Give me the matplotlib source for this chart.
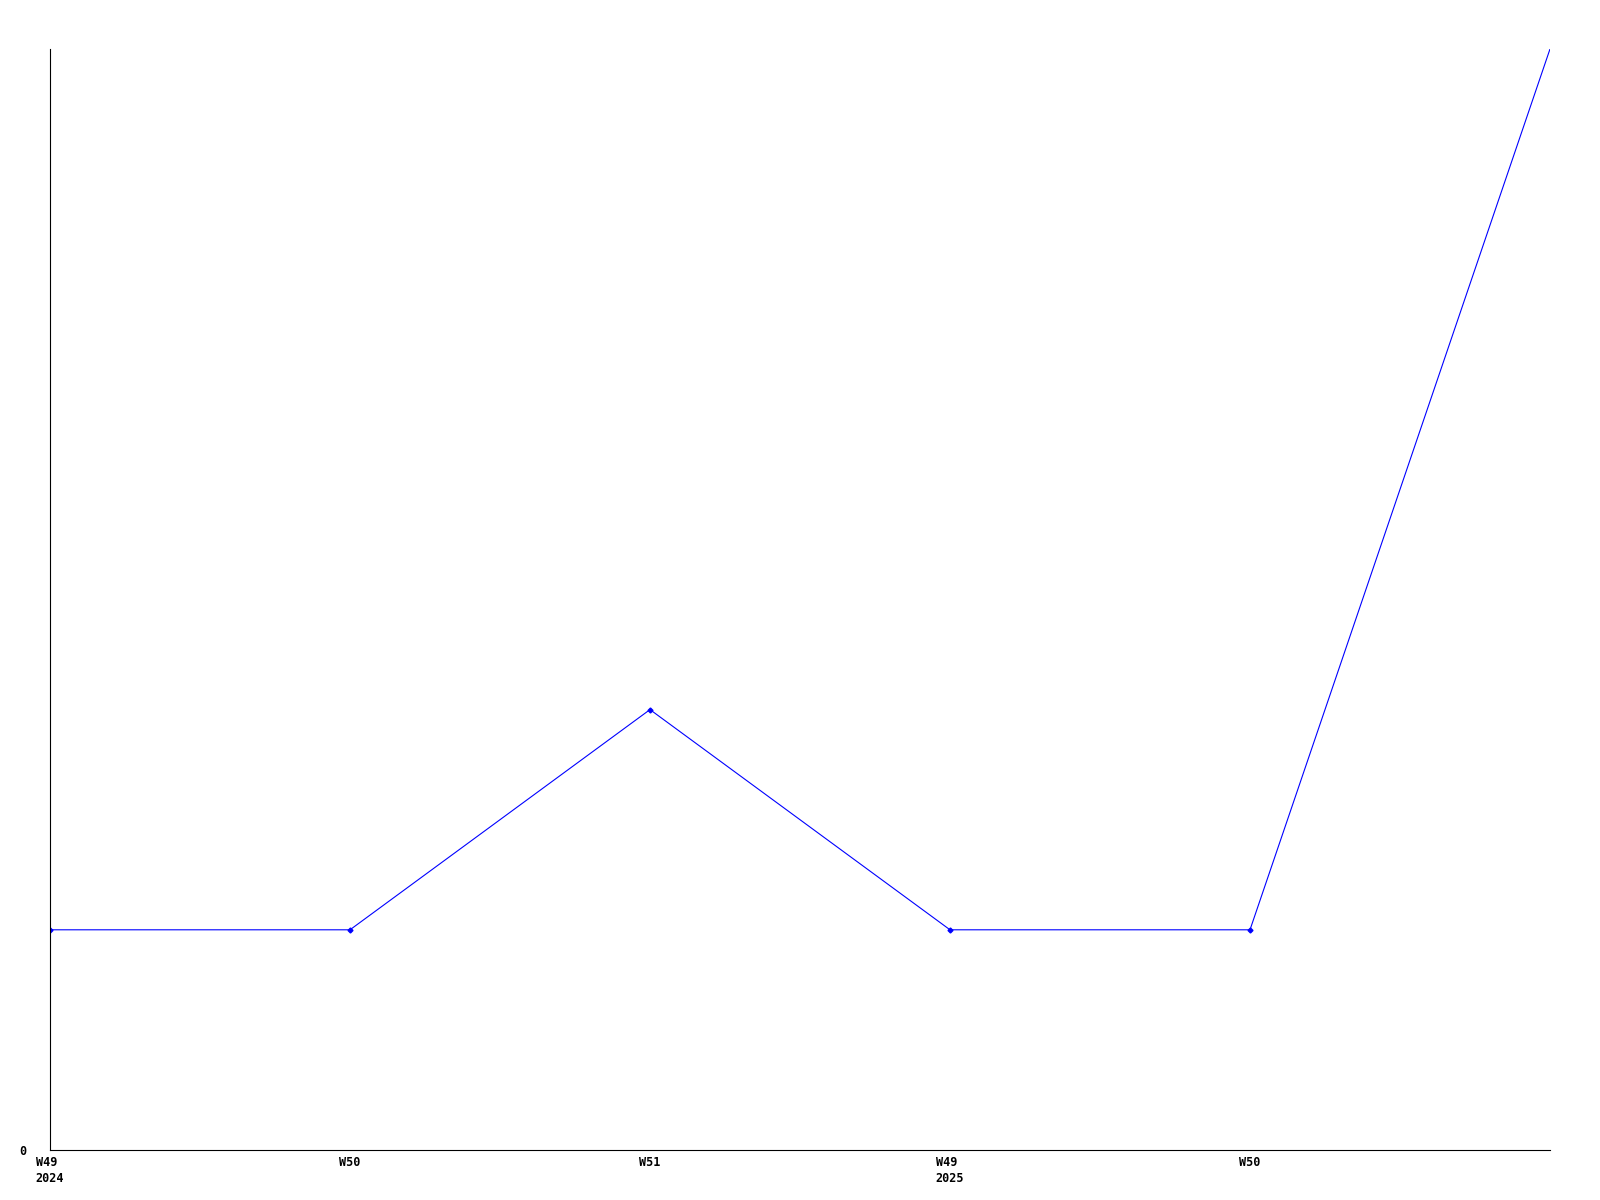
import matplotlib
matplotlib.use("Agg")
import matplotlib.pyplot as plt

# weekly counts
weeks = ["W49\n2024", "W50", "W51", "W49\n2025", "W50", ""]
counts = [1, 1, 2, 1, 1, 5]

fig = plt.figure(figsize=(16, 12), dpi=100)
ax = fig.add_axes([50 / 1600, 50 / 1200, 1500 / 1600, 1101 / 1200])

x = list(range(len(counts)))
ax.plot(x, counts, color="#0000ff", linewidth=0.8, marker="D", markersize=2.5,
        markevery=list(range(len(counts) - 1)))

ax.set_xlim(0, len(counts) - 1)
ax.set_ylim(0, 5)
ax.set_xticks(x)
ax.set_xticklabels(weeks, fontfamily="DejaVu Sans Mono", fontweight="bold",
                   fontsize=8.5, ha="center", multialignment="left", linespacing=1.35)
ax.set_yticks([0])
ax.set_yticklabels(["0"], fontfamily="DejaVu Sans Mono", fontweight="bold", fontsize=8.5)
ax.tick_params(axis="y", length=0, pad=17)
ax.tick_params(axis="x", length=0, pad=4)

for side in ["top", "right"]:
    ax.spines[side].set_visible(False)
for side in ["left", "bottom"]:
    ax.spines[side].set_linewidth(0.8)

fig.savefig("out.png", dpi=100)
